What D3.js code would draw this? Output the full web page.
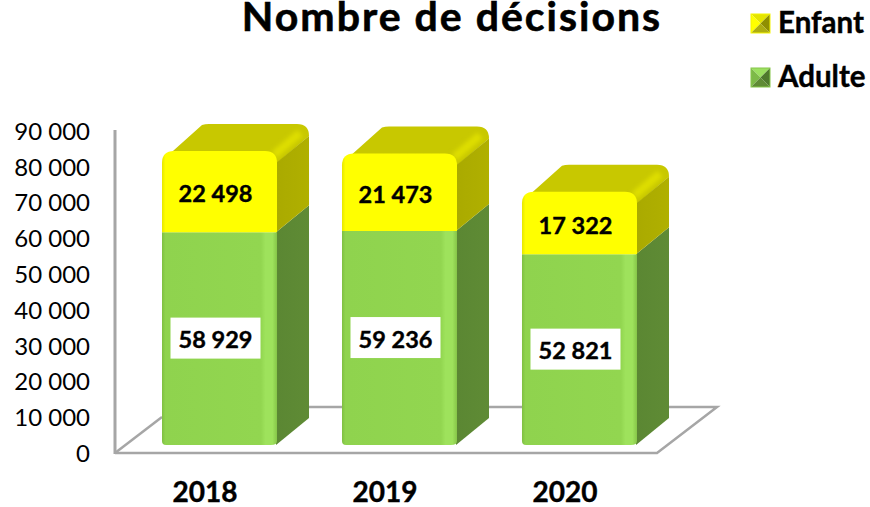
<!DOCTYPE html>
<html>
<head>
<meta charset="utf-8">
<title>Nombre de décisions</title>
<script src="https://cdn.jsdelivr.net/npm/d3@7"></script>
<style>
  html, body { margin: 0; padding: 0; background: #fff; }
  svg { display: block; font-family: Lato, "Open Sans", sans-serif; }
</style>
</head>
<body>
<div id="chart"></div>
<script>
// --- Data ---
const years = ['2018', '2019', '2020'];
const adulte = [58929, 59236, 52821];
const enfant = [22498, 21473, 17322];
const yTicks = [0, 10000, 20000, 30000, 40000, 50000, 60000, 70000, 80000, 90000];

// --- Setup ---
const width = 870, height = 507;
const depthX = 32, depthY = 27; // 3D offset of the columns
const spaced = d3.formatLocale({ decimal: ',', thousands: ' ', grouping: [3], currency: ['', ''] }).format(',d');

const svg = d3.select('#chart').append('svg')
    .attr('width', width)
    .attr('height', height);

const x = d3.scaleBand().domain(years).range([162, 637]).paddingInner(0.361).paddingOuter(0);
const y = d3.scaleLinear().domain([0, 90000]).range([445, 120]);      // front plane of columns
const yWall = d3.scaleLinear().domain([0, 90000]).range([453, 131]);  // tick labels on the wall

// Gradients
const defs = svg.append('defs');
function hGradient(id, stops) {
    const g = defs.append('linearGradient').attr('id', id);
    stops.forEach(s => g.append('stop').attr('offset', s[0]).attr('stop-color', s[1]));
}
hGradient('frontGreen', [[0, '#7fbf42'], [0.03, '#8fd34e'], [0.86, '#92d650'], [0.9, '#9ee25c'], [0.96, '#9ee25c'], [1, '#86c648']]);
hGradient('frontYellow', [[0, '#e6e600'], [0.03, '#ffff00'], [1, '#ffff00']]);
hGradient('sideGreen', [[0, '#5b8733'], [1, '#5f8b35']]);
hGradient('sideYellow', [[0, '#aaaa00'], [1, '#b0b000']]);
defs.append('filter').attr('id', 'soft')
    .attr('x', '-30%').attr('y', '-30%').attr('width', '160%').attr('height', '160%')
    .append('feGaussianBlur').attr('stdDeviation', 2);

// --- Floor and wall ---
const axisColor = '#a6a6a6';
svg.append('path')
    .attr('d', 'M115,453 L657,453 L717,407 L162,407')
    .attr('fill', 'none').attr('stroke', axisColor).attr('stroke-width', 2.5);
svg.append('path')
    .attr('d', 'M115,453 L162,417')
    .attr('stroke', axisColor).attr('stroke-width', 2.5);
svg.append('line')
    .attr('x1', 115).attr('x2', 115).attr('y1', 130).attr('y2', 454)
    .attr('stroke', axisColor).attr('stroke-width', 3);

// --- Y axis ---
svg.append('g')
    .attr('transform', 'translate(97,0)')
    .call(d3.axisLeft(yWall).tickValues(yTicks).tickSize(0).tickFormat(spaced))
    .call(g => g.select('.domain').remove())
    .selectAll('text')
    .attr('dy', '0.35em')
    .attr('x', -7)
    .style('font-size', '24px')
    .style('font-family', 'Lato')
    .style('fill', '#000');

// --- X axis (sits under the floor, slightly left of the columns) ---
svg.append('g')
    .attr('transform', 'translate(-14.5,478.5)')
    .call(d3.axisBottom(x).tickSize(0))
    .call(g => g.select('.domain').remove())
    .selectAll('text')
    .attr('y', 0)
    .attr('dy', '0.85em')
    .style('font-size', '28px')
    .style('font-weight', 700)
    .style('font-family', 'Lato')
    .style('stroke', '#000')
    .style('stroke-width', 0.4)
    .style('fill', '#000');

// --- Columns ---
const r = 12;
years.forEach((year, i) => {
    const x0 = x(year), x1 = x0 + x.bandwidth();
    const yBase = y(0), yMid = y(adulte[i]), yTop = y(adulte[i] + enfant[i]);
    const bar = svg.append('g').attr('class', 'bar');

    // Top face
    bar.append('path')
        .attr('d', `M${x0 + 2},${yTop + 8} L${x0 + depthX + 8},${yTop - depthY + 1}
            Q${x0 + depthX + 11},${yTop - depthY} ${x0 + depthX + 15},${yTop - depthY}
            L${x1 + depthX - r},${yTop - depthY}
            Q${x1 + depthX},${yTop - depthY} ${x1 + depthX},${yTop - depthY + r}
            L${x1},${yTop + r} L${x0 + r},${yTop + 4} Z`)
        .attr('fill', '#c8c800');

    // Side faces
    bar.append('path')
        .attr('d', `M${x1 - 1},${yMid} L${x1 + depthX},${yMid - depthY} L${x1 + depthX},${yBase - depthY - 0} L${x1 - 1},${yBase} Z`)
        .attr('fill', 'url(#sideGreen)');
    bar.append('path')
        .attr('d', `M${x1 - 1},${yMid} L${x1 + depthX},${yMid - depthY} L${x1 + depthX},${yTop - depthY + r} L${x1 - 1},${yTop + r} Z`)
        .attr('fill', 'url(#sideYellow)');
    // Soft bevel between top and side
    bar.append('line')
        .attr('x1', x1 - 3).attr('y1', yTop + 4)
        .attr('x2', x1 + depthX - 9).attr('y2', yTop - depthY + 9)
        .attr('stroke', '#dede00').attr('stroke-width', 8)
        .attr('filter', 'url(#soft)');

    // Front faces
    bar.append('path')
        .attr('d', `M${x0},${yMid} H${x1} V${yBase - 4} Q${x1},${yBase} ${x1 - 6},${yBase} H${x0 + 4} Q${x0},${yBase} ${x0},${yBase - 4} Z`)
        .attr('fill', 'url(#frontGreen)');
    bar.append('path')
        .attr('d', `M${x0},${yMid} V${yTop + r} Q${x0},${yTop} ${x0 + r},${yTop} H${x1 - r} Q${x1},${yTop} ${x1},${yTop + r} V${yMid} Z`)
        .attr('fill', 'url(#frontYellow)');

    // Value labels
    const cx = x0 + x.bandwidth() / 2 - 4;
    const yGreenLabel = (yBase + yMid) / 2;
    const yYellowLabel = (yMid + yTop) / 2 + 1;
    bar.append('rect')
        .attr('x', cx - 45).attr('width', 90)
        .attr('y', yGreenLabel - 21).attr('height', 41)
        .attr('fill', '#fff');
    [[yGreenLabel, adulte[i]], [yYellowLabel, enfant[i]]].forEach(d => {
        bar.append('text')
            .attr('x', cx).attr('y', d[0] + 1.5)
            .attr('dy', '0.35em')
            .attr('text-anchor', 'middle')
            .style('font-size', '23.5px')
            .style('font-weight', 700)
            .style('stroke', '#000')
            .style('stroke-width', 0.4)
            .text(spaced(d[1]));
    });
});

// --- Title ---
svg.append('text')
    .attr('x', 452).attr('y', 31)
    .attr('text-anchor', 'middle')
    .style('font-size', '41px')
    .style('font-weight', 700)
    .style('letter-spacing', '2px')
    .style('stroke', '#000')
    .style('stroke-width', 0.6)
    .text('Nombre de décisions');

// --- Legend ---
const legendNames = ['Enfant', 'Adulte'];
const legendColors = [
    { edge: '#f4f400', top: '#e4e400', left: '#ffff00', right: '#8f8f00', bottom: '#adad10' },
    { edge: '#86c64a', top: '#9ce060', left: '#7dba48', right: '#4f7a2c', bottom: '#5f8b35' }
];
legendNames.forEach((name, i) => {
    const lx = 751, ly = 14 + i * 54, s = 19;
    const g = svg.append('g').attr('transform', `translate(${lx},${ly})`);
    const c = legendColors[i];
    const tri = (pts, fill) => g.append('polygon').attr('points', pts).attr('fill', fill);
    tri(`0,0 ${s},0 ${s / 2},${s / 2}`, c.top);
    tri(`0,0 0,${s} ${s / 2},${s / 2}`, c.left);
    tri(`${s},0 ${s},${s} ${s / 2},${s / 2}`, c.right);
    tri(`0,${s} ${s},${s} ${s / 2},${s / 2}`, c.bottom);
    g.append('rect').attr('width', s).attr('height', s).attr('fill', 'none').attr('stroke', c.edge).attr('stroke-width', 1);
    svg.append('text')
        .attr('x', 778).attr('y', ly + 9)
        .attr('dy', '0.35em')
        .style('font-size', '29.5px')
        .style('font-weight', 700)
        .style('stroke', '#000')
        .style('stroke-width', 0.4)
        .text(name);
});
</script>
</body>
</html>
